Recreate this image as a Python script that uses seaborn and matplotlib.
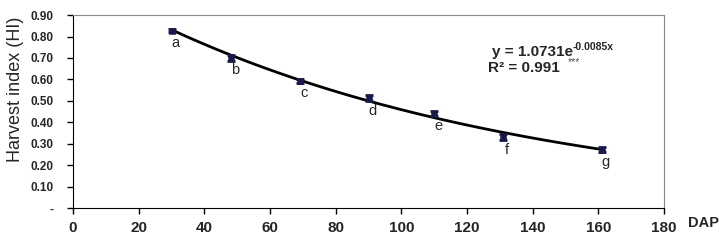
import numpy as np
import pandas as pd
import seaborn as sns
import matplotlib
matplotlib.use("Agg")
import matplotlib.pyplot as plt

dap = [30, 48, 69, 90, 110, 131, 161]
hi = [0.827, 0.700, 0.593, 0.513, 0.440, 0.330, 0.272]
hi_err = [0.006, 0.012, 0.010, 0.012, 0.012, 0.015, 0.012]
letters = ["a", "b", "c", "d", "e", "f", "g"]
y_ticks = [0, 0.1, 0.2, 0.3, 0.4, 0.5, 0.6, 0.7, 0.8, 0.9]
y_labels = ["-", "0.10", "0.20", "0.30", "0.40", "0.50", "0.60", "0.70", "0.80", "0.90"]
x_ticks = [0, 20, 40, 60, 80, 100, 120, 140, 160, 180]
fit_a, fit_b = 1.0731, -0.0085

sns.set_style("ticks")
plt.rcParams['font.family'] = ['Liberation Sans', 'DejaVu Sans']

df = pd.DataFrame({"DAP": dap, "HI": hi})
xs = np.linspace(min(dap), max(dap), 200)
fit = pd.DataFrame({"DAP": xs, "HI": fit_a * np.exp(fit_b * xs)})

fig = plt.figure(figsize=(7.25, 2.43), dpi=100)
ax = fig.add_axes([0.1007, 0.144, 0.8152, 0.794])

sns.lineplot(data=fit, x="DAP", y="HI", ax=ax, color="black", linewidth=2)
ax.errorbar(dap, hi, yerr=hi_err, fmt="none", ecolor="#1a1a4a", elinewidth=1.5, capsize=3, capthick=2)
sns.scatterplot(data=df, x="DAP", y="HI", ax=ax, marker="s", s=22, color="#1a1a4a", edgecolor="#1a1a4a", zorder=5)

for x, y, l in zip(dap, hi, letters):
    ax.annotate(l, (x, y), xytext=(3, -9), textcoords="offset points", ha="center", va="center", fontsize=10.5)

ax.set_xlim(0, 180)
ax.set_ylim(0, 0.9)
ax.set_xticks(x_ticks)
ax.set_yticks(y_ticks)
ax.set_yticklabels(y_labels)
ax.tick_params(length=4, width=1, color="black")
ax.tick_params(axis="x", labelsize=11, pad=5)
ax.tick_params(axis="y", labelsize=8.5, pad=10)
for t in ax.get_xticklabels() + ax.get_yticklabels():
    t.set_fontweight("bold")
ax.set_xlabel("")
ax.set_ylabel("")
fig.text(0.0207, 0.634, "Harvest index (HI)", rotation=90, fontsize=13, ha="center", va="center")
ax.text(1.04, -0.08, "DAP", transform=ax.transAxes, fontsize=10.5, fontweight="bold", ha="left", va="center")

for s in ["top", "right"]:
    ax.spines[s].set_visible(True)
    ax.spines[s].set_color("#888888")
for s in ["left", "bottom"]:
    ax.spines[s].set_color("black")

ax.text(0.709, 0.808, "y = 1.0731e", transform=ax.transAxes, fontsize=11, fontweight="bold", va="center")
ax.text(0.845, 0.836, "-0.0085x", transform=ax.transAxes, fontsize=7.5, fontweight="bold", va="center")
ax.text(0.702, 0.725, "R² = 0.991", transform=ax.transAxes, fontsize=11, fontweight="bold", va="center")
ax.text(0.838, 0.756, "***", transform=ax.transAxes, fontsize=7.5, color="#555555", va="center")

fig.savefig("out.png", dpi=100)
